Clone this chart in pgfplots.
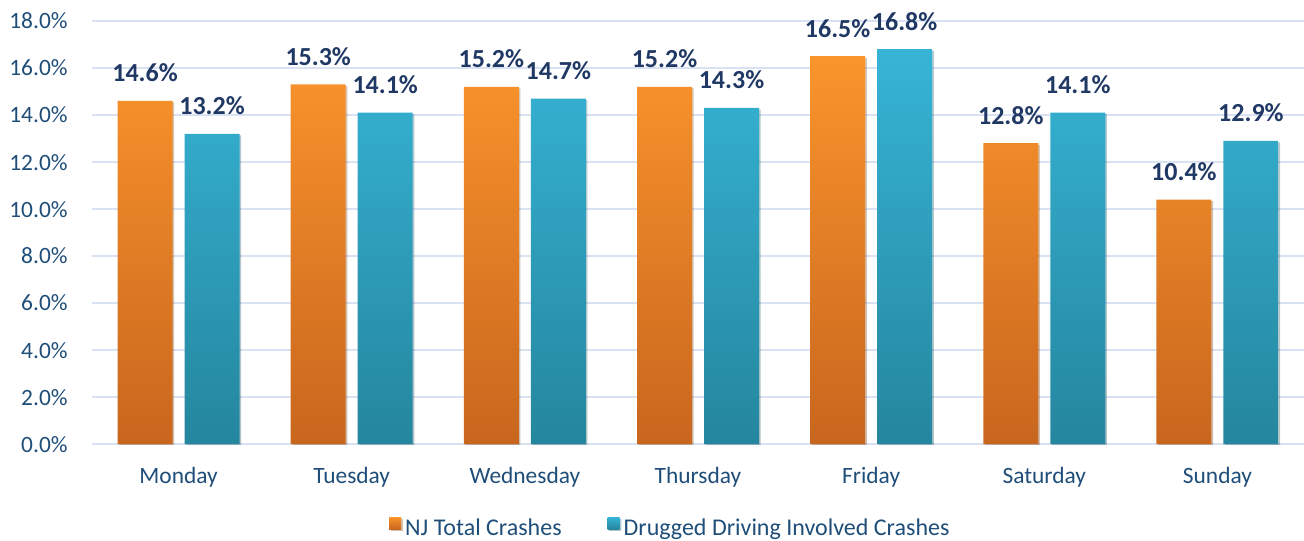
\documentclass[border=0pt]{standalone}
\usepackage{fontspec}
\setmainfont{Carlito}
\usepackage{pgfplots}
\pgfplotsset{compat=1.18}
\usetikzlibrary{shadows}
\definecolor{txt}{RGB}{31,78,121}
\definecolor{lbl}{RGB}{32,56,100}
\definecolor{gridc}{RGB}{217,226,243}
\definecolor{orT}{RGB}{250,148,44}
\definecolor{orB}{RGB}{200,102,30}
\definecolor{tlT}{RGB}{54,180,214}
\definecolor{tlB}{RGB}{37,134,158}
\begin{document}
\begin{tikzpicture}
\path[use as bounding box] (0,0) rectangle (652pt,270pt);
\begin{axis}[
  at={(46pt,48pt)}, anchor=south west,
  scale only axis, width=606pt, height=211.5pt,
  xmin=-0.5, xmax=6.5, ymin=0, ymax=18,
  ybar=6pt, bar width=27.5pt,
  xtick={0,...,6},
  xticklabels={Monday,Tuesday,Wednesday,Thursday,Friday,Saturday,Sunday},
  ytick={0,2,...,18},
  ymajorgrids, grid style={draw=gridc, line width=0.8pt},
  axis line style={draw=none},
  major tick length=0pt,
  /pgf/number format/assume math mode=true,
  yticklabel={\pgfmathprintnumber[fixed,fixed zerofill,precision=1]{\tick}\%},
  yticklabel style={anchor=base east, inner sep=0pt, xshift=-12pt, yshift=-4pt, font=\fontsize{11.7}{14}\selectfont, text=txt},
  xticklabel style={anchor=base, inner sep=0pt, yshift=-19.5pt, font=\fontsize{11.7}{14}\selectfont, text=txt},
  nodes near coords={\pgfmathprintnumber[fixed,fixed zerofill,precision=1]{\pgfplotspointmeta}\%},
  nodes near coords style={font=\fontsize{13}{15}\selectfont\bfseries, text=lbl, anchor=base, inner sep=0pt, yshift=9.5pt},
  legend style={at={(0.478,-0.199)}, anchor=center, draw=none, fill=none, legend columns=2,
    font=\fontsize{12}{14}\selectfont, text=txt,
    /tikz/every even column/.append style={column sep=21pt}},
  legend image code/.code={\path[top color=#1T,bottom color=#1B,draw=none] (0pt,-0.5pt) rectangle (6pt,5.5pt);},
]
\addplot[draw=none, top color=orT, bottom color=orB,
  drop shadow={shadow xshift=0.8pt, shadow yshift=-0.8pt, opacity=0.18, fill=black},
  legend image code/.code={\path[top color=orT,bottom color=orB,draw=none] (0pt,-0.5pt) rectangle (6pt,5.5pt);}]
  coordinates {(0,14.6) (1,15.3) (2,15.2) (3,15.2) (4,16.5) (5,12.8) (6,10.4)};
\addplot[draw=none, top color=tlT, bottom color=tlB,
  drop shadow={shadow xshift=0.8pt, shadow yshift=-0.8pt, opacity=0.18, fill=black},
  legend image code/.code={\path[top color=tlT,bottom color=tlB,draw=none] (0pt,-0.5pt) rectangle (6pt,5.5pt);}]
  coordinates {(0,13.2) (1,14.1) (2,14.7) (3,14.3) (4,16.8) (5,14.1) (6,12.9)};
\legend{NJ Total Crashes, Drugged Driving Involved Crashes}
\end{axis}
\end{tikzpicture}
\end{document}
